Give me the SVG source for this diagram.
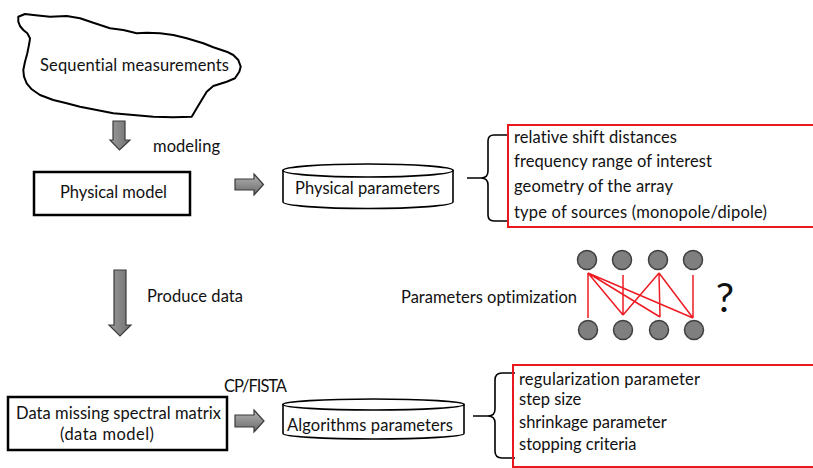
<svg xmlns="http://www.w3.org/2000/svg" width="813" height="468" viewBox="0 0 813 468">
<defs>
<linearGradient id="gH" x1="0" y1="0" x2="0" y2="1"><stop offset="0" stop-color="#b4b4b4"/><stop offset="1" stop-color="#6a6a6a"/></linearGradient>
<linearGradient id="gV" x1="0" y1="0" x2="1" y2="0"><stop offset="0" stop-color="#9a9a9a"/><stop offset="1" stop-color="#707070"/></linearGradient>
</defs>
<style>
text{font-family:Lato,"Liberation Sans",sans-serif;font-size:16.5px;fill:#111;font-variant-ligatures:none;font-feature-settings:"liga" 0}
.box{fill:#fff;stroke:#000;stroke-width:2.5}
.cyl{fill:#fff;stroke:#000;stroke-width:1.6}
.brace{fill:none;stroke:#000;stroke-width:1.6}
.red{fill:none;stroke:#e8181e;stroke-width:2}
.arr{stroke:#3a3a3a;stroke-width:1.2}
.dot{fill:#7f7f7f;stroke:#404040;stroke-width:1.5}
.link{stroke:#ee1c24;stroke-width:1.5;fill:none}
</style>
<rect width="813" height="468" fill="#fff"/>

<g id="sequential-measurements">
<path d="M18.3,21.7 L18.3,16.7 25,14 33.3,15 50,16.7 66.7,16 80,18.3 93.3,22.7 110,28.3 123.3,30 136.7,33.3 146.7,32.7 160,33.3 173.3,35 186.7,38.3 203.3,43.3 213.3,47.3 226.7,51.7 233.3,55 238.3,60 240.7,66.7 239.3,71.7 235,78.3 226.7,81.7 213.3,86 206.7,91.7 201.7,100 196.7,108.3 191.7,116.7 173.3,117.3 153.3,116.7 133.3,115 113.3,113.3 96.7,110 80,106.7 66.7,103.3 53.3,100 40,95 31.7,89.3 26.7,83.3 24,76.7 23.3,70 25,61.7 27.3,53.3 29.3,43.3 30,38.3 27.3,33.3 23.3,30 20,26 Z" fill="#fff" stroke="#000" stroke-width="2" stroke-linejoin="round"/>
<text x="40" y="71" textLength="189">Sequential measurements</text>
</g>

<g id="physical-model">
<rect class="box" x="34" y="172" width="156" height="43"/>
<text x="60" y="198" textLength="107">Physical model</text>
</g>

<g id="physical-parameters">
<path class="cyl" d="M283,170.5 V202 A85,6.5 0 0 0 453,202 V170.5 Z"/>
<ellipse class="cyl" cx="368" cy="170.5" rx="85" ry="6.5"/>
<text x="295" y="194" textLength="145">Physical parameters</text>
</g>

<g id="physical-list">
<path class="brace" d="M507,135 H494 Q488,135 488,141 V171 Q488,178 481,178 H467 M481,178 Q488,178 488,185 V215 Q488,221 494,221 H507"/>
<rect class="red" x="508" y="125" width="310" height="102"/>
<text x="514" y="143" textLength="163">relative shift distances</text>
<text x="514" y="167" textLength="198">frequency range of interest</text>
<text x="514" y="192" textLength="159">geometry of the array</text>
<text x="514" y="218" textLength="253">type of sources (monopole/dipole)</text>
</g>

<g id="parameters-optimization">
<text x="401" y="303" textLength="176">Parameters optimization</text>
<g id="network">
<circle class="dot" cx="587" cy="260" r="9.5"/>
<circle class="dot" cx="622" cy="260" r="9.5"/>
<circle class="dot" cx="658" cy="260" r="9.5"/>
<circle class="dot" cx="693" cy="260" r="9.5"/>
<circle class="dot" cx="588" cy="330" r="9.5"/>
<circle class="dot" cx="623" cy="330" r="9.5"/>
<circle class="dot" cx="659" cy="330" r="9.5"/>
<circle class="dot" cx="694" cy="330" r="9.5"/>
<path class="link" d="M588,273 V318 M588,273 L623,315 M588,273 L660,317 M588,273 L693,318 M623,275 V315 M659,273 L623,315 M659,273 L660,317 M659,273 L693,318 M693,275 V318"/>
</g>
<text x="725" y="312" text-anchor="middle" style="font-size:41px">?</text>
</g>

<g id="data-model">
<rect class="box" x="8" y="397" width="219" height="53"/>
<text x="16" y="419" textLength="205">Data missing spectral matrix</text>
<text x="60" y="440" textLength="94">(data model)</text>
</g>

<g id="algorithms-parameters">
<path class="cyl" d="M283,404.5 V433.5 A90.5,5.5 0 0 0 464,433.5 V404.5 Z"/>
<ellipse class="cyl" cx="373.5" cy="404.5" rx="90.5" ry="5.5"/>
<text x="287" y="431" textLength="166">Algorithms parameters</text>
</g>

<g id="algorithms-list">
<path class="brace" d="M515,373 H502 Q495,373 495,380 V409 Q495,416 488,416 H473 M488,416 Q495,416 495,423 V451 Q495,458 502,458 H515"/>
<rect class="red" x="513" y="365" width="305" height="102"/>
<text x="519" y="385" textLength="181">regularization parameter</text>
<text x="519" y="405">step size</text>
<text x="519" y="428">shrinkage parameter</text>
<text x="519" y="450">stopping criteria</text>
</g>

<g id="connectors">
<path class="arr" fill="url(#gV)" d="M113,121 H125 V140 H130 L119.5,150 L110,140 H113 Z"/>
<text x="153" y="152" textLength="67">modeling</text>
<path class="arr" fill="url(#gH)" d="M235,179 H254 V174 L263.5,184.5 L254,195 V190 H235 Z"/>
<path class="arr" fill="url(#gV)" d="M114,270 H126 V325 H131 L120,336 L109,325 H114 Z"/>
<text x="147" y="302" textLength="96">Produce data</text>
<path class="arr" fill="url(#gH)" d="M235,415 H254 V410 L264,421 L254,432 V427 H235 Z"/>
<text x="224" y="392" textLength="63">CP/FISTA</text>
</g>
</svg>
